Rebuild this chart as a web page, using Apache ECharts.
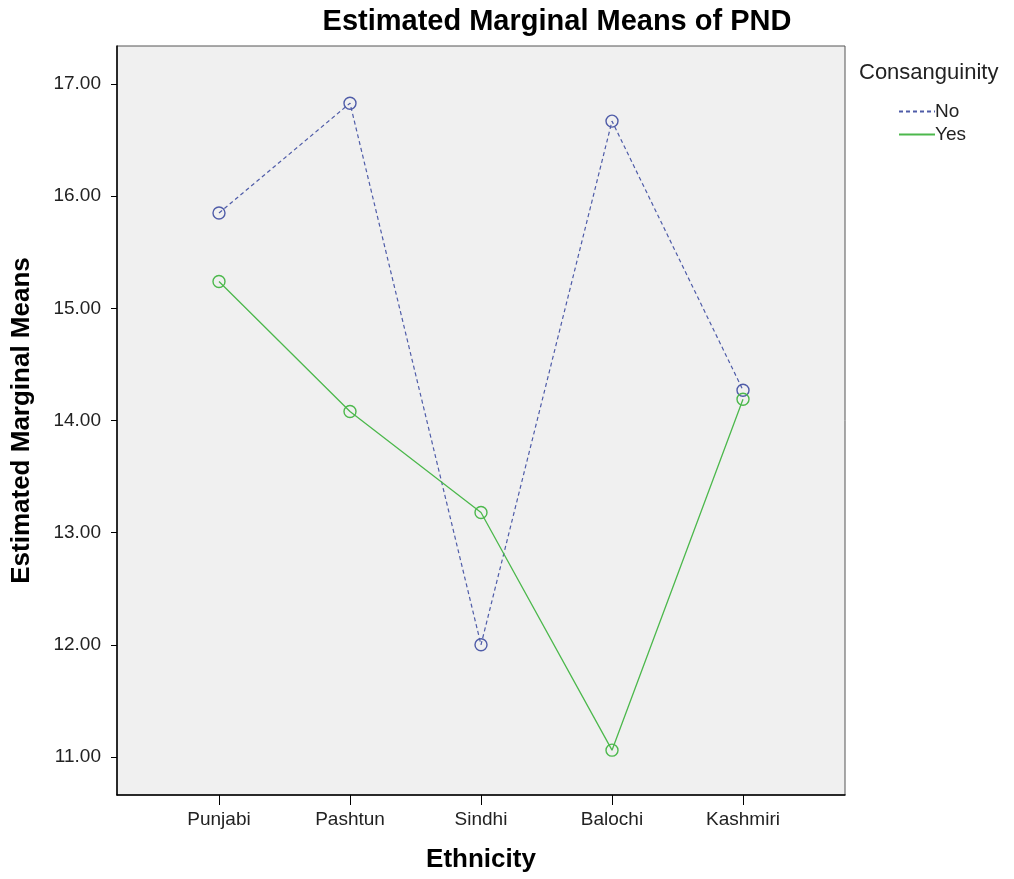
<!DOCTYPE html>
<html>
<head>
<meta charset="utf-8">
<script src="https://cdn.jsdelivr.net/npm/echarts@6/dist/echarts.min.js"></script>
<style>
  html, body { margin: 0; padding: 0; background: #fff; }
  #chart { width: 1014px; height: 879px; }
</style>
</head>
<body>
<div id="chart"></div>
<script>
// data
const ethnicity = ['Punjabi', 'Pashtun', 'Sindhi', 'Balochi', 'Kashmiri']
const meansNo = [15.85, 16.83, 12.00, 16.67, 14.27]
const meansYes = [15.24, 14.08, 13.18, 11.06, 14.19]
const yTicks = [11, 12, 13, 14, 15, 16, 17]
const xTicks = [0, 1, 2, 3, 4]

const blue = '#4f5ca8'
const green = '#4cb84c'
const font = 'Liberation Sans, Arial, sans-serif'

const chart = echarts.init(document.getElementById('chart'))

const toPoints = (vals) => vals.map((v, i) => [i, v])

const options = {
  animation: false,
  backgroundColor: '#fff',
  textStyle: { fontFamily: font },
  grid: {
    show: true,
    left: 117,
    right: 169,
    top: 46,
    bottom: 84,
    outerBoundsMode: 'none',
    containLabel: false,
    backgroundColor: '#f0f0f0',
    borderColor: '#555',
    borderWidth: 1
  },
  graphic: [
    {
      type: 'text',
      x: 557,
      y: 7,
      style: {
        text: 'Estimated Marginal Means of PND',
        font: 'bold 29px ' + font,
        fill: '#000',
        align: 'center',
        verticalAlign: 'top'
      }
    },
    {
      type: 'text',
      x: 859,
      y: 62,
      style: { text: 'Consanguinity', font: '22px ' + font, fill: '#222', verticalAlign: 'top' }
    }
  ],
  legend: {
    orient: 'vertical',
    left: 893,
    top: 97,
    itemWidth: 36,
    itemHeight: 14,
    itemGap: 4,
    itemStyle: { opacity: 0 },
    textStyle: { fontSize: 19, color: '#222', padding: [0, 0, 0, -5] },
    data: ['No', 'Yes']
  },
  xAxis: {
    type: 'value',
    min: -0.7786,
    max: 4.7786,
    name: 'Ethnicity',
    nameLocation: 'middle',
    nameGap: 52,
    nameTextStyle: { fontSize: 26, fontWeight: 'bold', color: '#000' },
    axisLine: { show: true, onZero: false, lineStyle: { color: '#000', width: 1.5 } },
    axisTick: { show: true, length: 10, customValues: xTicks, lineStyle: { color: '#000' } },
    axisLabel: {
      customValues: xTicks,
      fontSize: 19,
      color: '#222',
      margin: 15,
      formatter: (v) => ethnicity[Math.round(v)]
    },
    splitLine: { show: false }
  },
  yAxis: {
    type: 'value',
    min: 10.66,
    max: 17.34,
    name: 'Estimated Marginal Means',
    nameLocation: 'middle',
    nameRotate: 90,
    nameGap: 82,
    nameTextStyle: { fontSize: 26, fontWeight: 'bold', color: '#000' },
    axisLine: { show: true, onZero: false, lineStyle: { color: '#000', width: 1.5 } },
    axisTick: { show: true, inside: false, length: 6, customValues: yTicks, lineStyle: { color: '#000' } },
    axisLabel: {
      customValues: yTicks,
      fontSize: 19,
      color: '#222',
      margin: 16,
      formatter: (v) => v.toFixed(2)
    },
    splitLine: { show: false }
  },
  series: [
    {
      name: 'No',
      type: 'line',
      data: toPoints(meansNo),
      symbol: 'circle',
      symbolSize: 12,
      itemStyle: { color: 'rgba(0,0,0,0)', borderColor: blue, borderWidth: 1.4 },
      lineStyle: { color: blue, width: 1.2, type: [4, 3] }
    },
    {
      name: 'Yes',
      type: 'line',
      data: toPoints(meansYes),
      symbol: 'circle',
      symbolSize: 12,
      itemStyle: { color: 'rgba(0,0,0,0)', borderColor: green, borderWidth: 1.4 },
      lineStyle: { color: green, width: 1.3 }
    }
  ]
}

chart.setOption(options)
</script>
</body>
</html>
